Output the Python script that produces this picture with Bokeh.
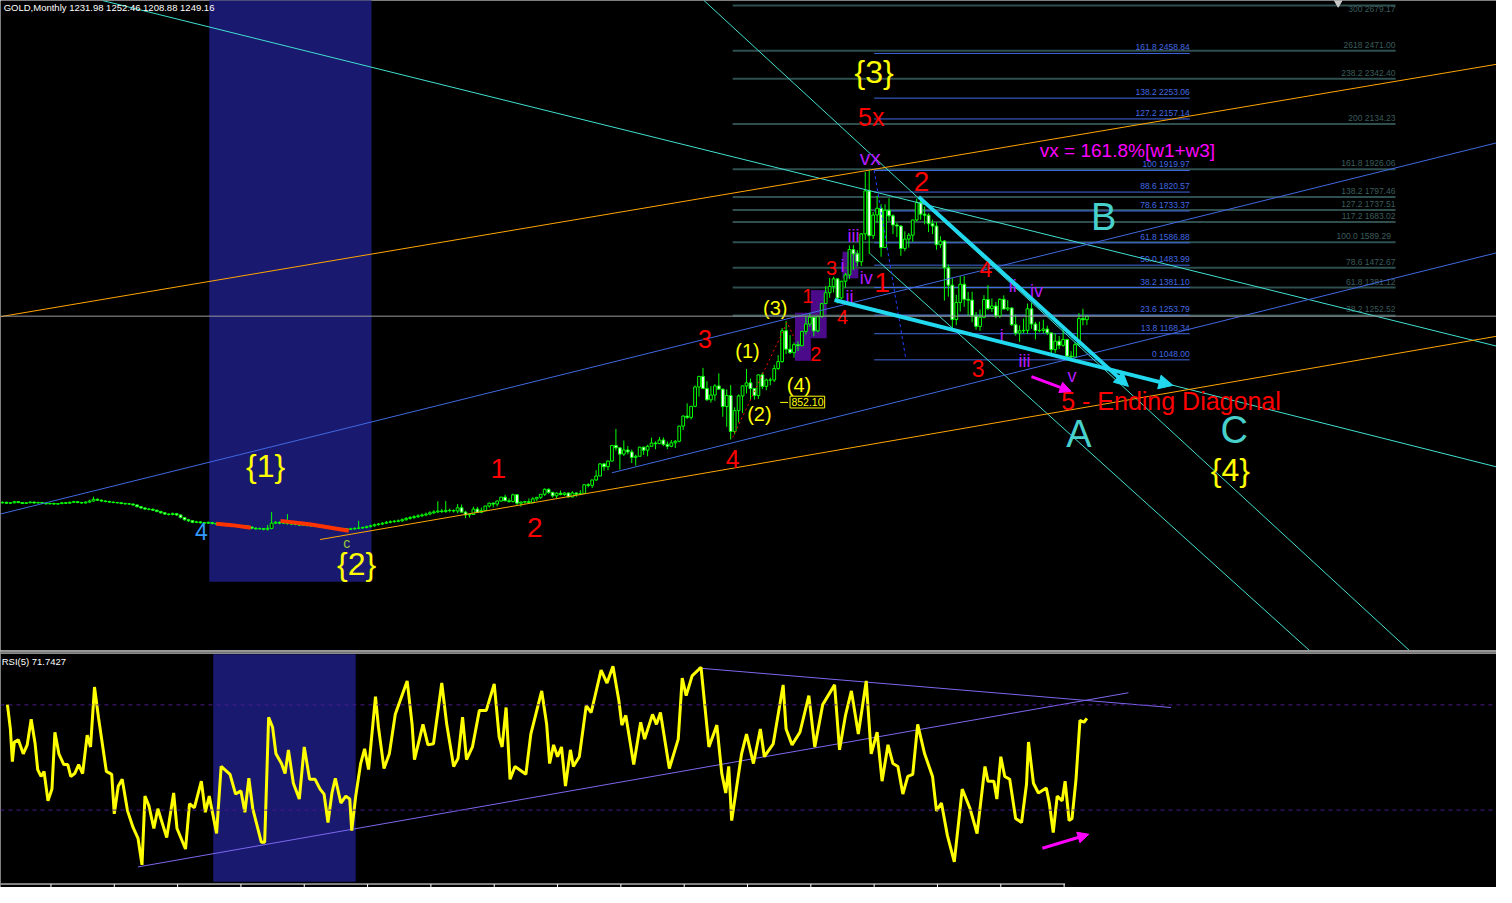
from bokeh.plotting import figure
from bokeh.layouts import column
from bokeh.models import Range1d, Span, Arrow, NormalHead, ColumnDataSource
from bokeh.core.properties import value
from bokeh.embed import file_html
from bokeh.resources import INLINE

FONT = "Liberation Sans"

# ---------------- GOLD monthly bars (oldest first) ----------------
first_open = 390.0
close_early = [392,388,390,395,391,387,390,393,389,391,
               388,385,387,384,386,390,388,392,395,391,
               389,393,398,406,402,398,396,393,391,390,
               387,385,384,380,372,366,361,360,356,350,
               344,338,336,340,334,322,312,307,300,302,
               298,296,299,295,292,290,293,287,285,282,
               280,283,278,273,270,271,268,272,296,300,
               296,298,294,292,290,287,288,285,283,282,
               280,278,276,275,273,271,270,268,270,272,
               274,276,280,284,289,292,296,300,303,305,
               307,312,318,322,326,330,334,338,344,348,
               352,350,355,354,352]
high_early = [396,395,393,399,398,394,393,397,396,395,
              394,391,390,390,389,394,393,396,399,398,
              394,397,404,418,410,405,401,399,396,394,
              393,390,389,387,382,375,369,366,364,358,
              353,347,342,345,343,336,325,316,310,307,
              306,302,304,302,298,296,297,296,291,289,
              286,288,286,281,277,276,274,288,347,306,
              304,303,338,298,296,294,293,291,289,287,
              286,284,282,280,279,277,275,274,275,277,
              307,281,285,289,294,297,301,306,309,311,
              313,318,324,329,333,337,341,345,351,356,
              397,362,398,363,360]
low_early = [386,385,384,387,388,384,385,388,386,387,
             385,382,383,381,381,384,385,386,390,388,
             386,387,391,396,398,395,392,390,388,386,
             383,381,380,376,368,362,357,355,352,346,
             340,334,331,332,330,318,308,302,296,296,
             294,292,292,290,288,286,286,283,281,278,
             276,276,274,269,265,266,263,262,268,292,
             291,292,289,287,286,283,283,281,279,278,
             276,274,272,271,269,266,264,262,264,266,
             268,270,272,276,280,285,288,292,295,298,
             300,302,307,312,316,320,324,328,332,338,
             342,343,344,346,345]

close_late = [367,347,334,336,361,346,354,375,388,384,398,416,
              399,396,427,388,393,395,391,408,415,429,452,438,
              422,434,428,435,417,435,429,433,473,470,495,513,
              569,556,582,654,643,614,633,624,599,604,646,632,
              650,665,662,679,659,650,666,673,743,789,783,834,
              923,972,916,864,886,928,913,833,884,718,814,882,
              928,942,916,884,979,926,955,955,1008,1040,1182,1097,
              1081,1118,1113,1179,1213,1244,1181,1247,1307,1357,1386,1421,
              1333,1410,1439,1556,1536,1500,1628,1826,1620,1715,1746,1565,
              1737,1711,1669,1664,1561,1604,1622,1692,1773,1719,1714,1675,
              1664,1578,1595,1472,1392,1234,1312,1396,1327,1323,1250,1202,
              1244,1326,1284,1296,1250,1327,1282,1287,1210,1171,1182,1184,
              1283,1213,1183,1183,1190,1172,1095,1134,1115,1142,1065,1061,
              1118,1238,1233,1249.16]
high_late = [384,382,353,340,372,371,368,376,390,392,400,417,
             427,410,432,430,397,399,410,416,417,430,456,456,
             440,438,446,438,437,443,438,448,476,480,497,540,
             573,574,585,656,730,646,677,651,635,611,648,648,
             657,690,673,693,691,672,679,679,745,793,848,836,
             930,974,1011,950,927,936,986,916,912,932,829,889,
             930,1006,962,918,980,990,962,966,1025,1070,1195,1226,
             1162,1128,1134,1180,1249,1265,1246,1250,1308,1387,1425,1431,
             1424,1412,1448,1575,1577,1553,1632,1913,1920,1729,1803,1765,
             1764,1792,1718,1679,1668,1640,1632,1693,1790,1795,1754,1723,
             1694,1682,1617,1600,1487,1424,1347,1433,1434,1361,1362,1268,
             1280,1346,1392,1331,1315,1331,1345,1323,1288,1256,1207,1238,
             1307,1309,1223,1224,1233,1205,1174,1170,1158,1192,1145,1088,
             1130,1263,1283,1252.46]
low_late = [342,345,319,321,334,343,342,353,368,369,373,396,
            399,390,391,380,372,386,386,386,398,407,421,431,
            414,411,424,422,414,414,418,425,431,461,458,490,
            514,537,540,580,630,543,605,613,573,561,604,610,
            604,651,636,661,651,637,646,642,668,725,776,774,
            830,879,914,860,851,860,911,786,740,681,705,760,
            803,893,865,865,868,913,908,931,946,1002,1035,1075,
            1075,1058,1089,1111,1165,1201,1157,1175,1242,1307,1334,1358,
            1308,1327,1381,1420,1462,1478,1480,1600,1535,1604,1680,1523,
            1563,1688,1627,1613,1527,1548,1565,1592,1685,1693,1672,1636,
            1627,1555,1564,1321,1339,1180,1208,1271,1292,1251,1221,1187,
            1182,1239,1277,1268,1240,1240,1280,1273,1204,1160,1131,1170,
            1167,1191,1142,1175,1170,1162,1077,1080,1098,1109,1053,1046,
            1060,1111,1207,1208.88]

# ---------------- RSI(5) path ----------------
rsi_bar = [1.25,2,2.5,3,4,5.25,6.25,7.25,8.25,8.9,
           9.75,10.5,11.5,12.5,13.25,14.25,15.5,16.5,17.25,18.25,
           19.25,20.25,21.4,22.25,23.25,24.25,26.25,27.6,28.25,29.25,
           30.25,31.6,33,34.25,35.25,36,37,38.25,39.25,41.5,
           43.25,44.1,46.25,47.25,48.5,50.25,51.25,52.25,54.1,55.25,
           57.5,58.9,60.25,61.25,62.25,63.25,65.4,66.25,67.25,68.25,
           69.1,70.5,71.4,72.25,73.5,75,76.25,77.6,79,80.25,
           81.25,82.25,83.25,84.1,85.5,86.75,87.75,88.25,89.25,90.5,
           91.5,92.5,94.25,95,96.4,97.75,99.25,102.25,103.5,104.1,
           106.25,107.5,108.9,111,112.25,114,115.1,116.25,117.25,118.75,
           120.5,122.25,124.25,125.5,126.25,127.25,128.25,129.5,132.25,133.5,
           136.25,137.5,138.25,139.25,140.25,141.25,142.25,143.5,144.25,145.75,
           147.5,148.75,151.25,152.75,154.25,155.75,156.5,157.5,159.5,161.25,
           162.25,164.25,165.25,166.25,168.5,170.75,171.75,172.75,174.25,176.5,
           178.5,180.5,181.75,182.75,183.5,184.25,186.75,188,189.75,191.5,
           192.5,194.75,197.25,198,199.5,201.5,203.75,205.25,207.25,210.25,
           211.5,213,214.5,216.25,218.25,219.5,221,222.25,223.75,225,
           226.25,227.5,228.75,230,231.25,233,235,236,237.25,238.75,
           240.5,242.5,244.5,246.25,248.25,249,250.5,251.25,252.25,253.25,
           254.5,256,257.5,258.75,259.25,260.5,261.75,263.75,264.5,265.5,
           266.5,267.75,268.5,269.5,270.25,271.25,272.25,273.25,274]
rsi_val = [70.1,60.8,48.4,55.9,56.7,51.4,54.8,64.5,55.2,45.4,
           42.8,44.7,33.5,38.0,59.6,51.4,47.3,47.3,42.8,43.9,
           47.3,43.9,58.5,54.0,76.8,65.3,44.7,43.6,28.6,39.1,
           41.7,29.7,23.4,19.3,9.2,35.3,31.6,23.0,30.5,19.6,
           36.5,23.0,15.2,32.4,30.9,41.0,29.2,35.3,21.1,46.6,
           43.6,36.1,37.3,29.2,42.1,30.5,17.8,17.8,65.3,61.5,
           51.4,47.7,43.9,52.9,40.2,34.2,54.0,41.7,41.7,38.0,
           36.1,25.3,36.5,42.1,32.7,35.3,34.2,22.2,35.3,47.7,
           53.3,45.4,73.1,61.5,45.8,51.4,66.4,79.1,62.6,49.2,
           62.6,54.8,55.2,78.3,62.6,46.6,49.6,65.3,49.2,54.0,
           67.9,67.9,78.0,57.8,54.0,69.0,41.7,46.6,43.6,58.9,
           75.3,62.6,47.7,54.8,50.3,54.0,39.1,52.9,46.6,50.3,
           69.7,67.1,83.2,78.3,84.7,71.6,62.3,66.0,47.3,63.4,
           57.0,66.4,62.6,67.1,45.8,57.0,80.2,73.5,81.0,84.3,
           54.0,62.3,43.9,36.5,46.6,26.0,51.4,58.9,47.7,60.8,
           50.3,55.2,77.6,60.8,54.8,59.6,73.5,54.0,70.1,77.6,
           52.9,66.0,75.3,58.9,79.1,51.4,59.6,41.0,54.8,47.7,
           46.6,36.1,42.8,43.6,62.6,51.4,42.8,29.7,32.7,20.4,
           10.3,38.0,30.5,21.1,46.6,41.0,41.0,34.2,50.3,42.8,
           41.7,26.8,25.3,39.9,55.9,40.2,36.5,38.4,32.7,21.5,
           35.3,33.5,41.0,26.0,26.8,41.7,64.1,63.4,64.9]
rsi_levels = [70, 30]

# ---------------- Fibonacci objects ----------------
fibA_ratio = ["300", "2618", "238.2", "200", "161.8", "138.2", "127.2", "117.2", "100.0  ", "78.6", "61.8", "38.2"]
fibA_price = [2679.17, 2471.00, 2342.40, 2134.23, 1926.06, 1797.46, 1737.51, 1683.02, 1589.29, 1472.67, 1381.12, 1252.52]
fibA_label_shift = [9, 0, 0, 0, 0, 0, 0, 0, 0, 0, 0, 0]
fibA_span = [184.5, 352.0]
fibB_ratio = ["161.8", "138.2", "127.2", "100", "88.6", "78.6", "61.8", "50.0", "38.2", "23.6", "13.8", "0"]
fibB_price = [2458.84, 2253.06, 2157.14, 1919.97, 1820.57, 1733.37, 1586.88, 1483.99, 1381.10, 1253.79, 1168.34, 1048.00]
fibB_span = [220.25, 300.0]
last_price = 1249.16

# ---------------- trend lines (bar, price) ----------------
turq_lines = [((25.25, 2702.6), (377.5, 1111.3)),
              ((210.25, 1323.8), (377.5, 555.2)),
              ((177.25, 2702.6), (355.5, -290.2)),
              ((219.25, 1536.2), (330.25, -290.2))]
orange_lines = [((-0.5, 1246.9), (377.5, 2408.8)),
                ((80.25, 220.7), (377.5, 1156.5))]
blue_lines = [((-0.5, 338.2), (377.5, 2047.1)),
              ((154.0, 528.1), (377.5, 1540.8))]
diag_arrows = [((231.5, 1798.5), (284.5, 925.9)),
               ((210.25, 1323.8), (295.75, 930.5))]
magenta_arrow = ((260.0, 971.1), (270.0, 903.3))
fib_dash = ((220.25, 1920.5), (228.25, 1052.5))
red_dotted_x = [184.5, 198.25, 200.25]
red_dotted_y = [690.9, 1219.8, 1142.9]
red_band1_x = [54.0, 58.0, 62.75]
red_band1_y = [293.0, 287.0, 274.9]
red_band2_x = [70.25, 78.0, 87.5]
red_band2_y = [306.6, 290.0, 261.4]
box_left = [200.25, 204.25, 212.25]
box_right = [204.25, 208.25, 216.25]
box_bottom = [1043.5, 1147.5, 1423.2]
box_top = [1265.0, 1369.0, 1545.3]
band_main = (52.25, 93.25, 26.3)
band_rsi = (53.25, 89.25)
rsi_lines = [((34.25, 8.4), (284.5, 74.6)),
             ((175.75, 84.0), (295.25, 69.0))]
rsi_arrow = ((262.75, 15.5), (274.5, 20.8))
time_ticks = [12.25 + 16 * k for k in range(17)]

YEL, RED, TURQ, VIO, MAG = "#ffff00", "#ff0000", "#48d1cc", "#b21cff", "#ff00ff"
wave_text = ["{3}", "{1}", "{2}", "{4}", "(3)", "(1)", "(2)", "(4)",
             "5x", "1", "2", "3", "4", "1", "2", "3", "4", "1", "2", "4", "3",
             "5 - Ending Diagonal", "B", "A", "C",
             "vx", "iii", "i", "iv", "ii", "ii", "iv", "i", "iii", "v",
             "vx = 161.8%[w1+w3]", "c", "4"]
wave_bar = [220.25, 66.5, 89.5, 310.25, 195.25, 188.25, 191.25, 201.25,
            219.5, 125.25, 134.5, 177.5, 184.5, 203.5, 205.5, 209.5, 212.25, 222.25, 232.25, 248.5, 246.5,
            295.25, 278.25, 272.0, 311.25,
            219.25, 215.0, 212.25, 218.25, 214.0, 255.25, 261.25, 252.5, 258.25, 270.25,
            284.25, 87.0, 50.25]
wave_price = [2372.6, 559.8, 107.7, 541.7, 1287.6, 1088.7, 799.4, 930.5,
              2164.6, 546.2, 275.1, 1142.9, 591.4, 1341.9, 1075.1, 1473.0, 1246.9, 1405.1, 1870.8, 1468.4, 1007.3,
              858.1, 1708.0, 704.4, 727.0,
              1979.3, 1617.6, 1482.0, 1423.2, 1337.3, 1387.0, 1364.5, 1156.5, 1043.5, 975.7,
              2010.9, 202.6, 256.9]
wave_color = [YEL] * 8 + [RED] * 13 + [RED, TURQ, TURQ, TURQ] + [VIO] * 10 + [MAG, "#9acd32", "#3399ff"]
wave_size = ["32px"] * 4 + ["20px"] * 4 + \
            ["25px", "28px", "28px", "25px", "25px", "20px", "20px", "20px", "20px", "28px", "28px", "23px", "23px"] + \
            ["25px", "38px", "38px", "38px"] + ["21px"] + ["18px"] * 9 + ["19px", "14px", "23px"]

# ---------------- build ----------------
close = close_early + close_late
high = high_early + high_late
low = low_early + low_late
n = len(close)
bars = list(range(n))
opn = [first_open] + close[:-1]
top = [max(o, c) for o, c in zip(opn, close)]
bot = [min(o, c) for o, c in zip(opn, close)]
fill = ["black" if c >= o else "white" for o, c in zip(opn, close)]

W = 1496
XR = (-0.5, 377.5)


def base_fig(h, yr):
    f = figure(width=W, height=h, x_range=Range1d(*XR), y_range=Range1d(*yr),
               output_backend="svg", toolbar_location=None,
               x_axis_location=None, y_axis_location=None, min_border=0,
               background_fill_color="black", border_fill_color="black",
               outline_line_color=None)
    f.grid.visible = False
    return f


p = base_fig(650, (-290.2, 2702.6))

# background band and purple boxes
p.quad(left=[band_main[0]], right=[band_main[1]], bottom=[band_main[2]], top=[2800],
       fill_color="#191970", line_color=None)
p.quad(left=box_left, right=box_right, bottom=box_bottom, top=box_top,
       fill_color="#4b0a8a", line_color=None)

# fib levels
nA = len(fibA_price)
p.segment(x0=[fibA_span[0]] * nA, y0=fibA_price, x1=[fibA_span[1]] * nA, y1=fibA_price,
          line_color="#2f4f4f", line_width=2)
srcA = ColumnDataSource(dict(x=[fibA_span[1]] * nA, y=fibA_price,
                             t=[f"{r} {v:.2f}" for r, v in zip(fibA_ratio, fibA_price)],
                             dy=[s - 1 for s in fibA_label_shift]))
p.text(x="x", y="y", text="t", y_offset="dy", source=srcA,
       text_align="right", text_baseline="bottom",
       text_color="#3b5c5c", text_font=value(FONT), text_font_size="8.5px")
nB = len(fibB_price)
p.segment(x0=[fibB_span[0]] * nB, y0=fibB_price, x1=[fibB_span[1]] * nB, y1=fibB_price,
          line_color="#4169e1", line_width=1)
p.text(x=[fibB_span[1]] * nB, y=fibB_price,
       text=[f"{r} {v:.2f}" for r, v in zip(fibB_ratio, fibB_price)],
       text_align="right", text_baseline="bottom", y_offset=-1,
       text_color="#4169e1", text_font=value(FONT), text_font_size="8.5px")
p.add_layout(Span(location=last_price, dimension="width", line_color="#9a9a9a", line_width=1))
p.scatter(x=[337.5], y=[2693], marker="inverted_triangle", size=8, color="#c8c8c8")

# candles
p.segment(x0=bars, y0=high, x1=bars, y1=low, line_color="#00ff00", line_width=1)
p.vbar(x=bars, width=0.7, top=top, bottom=bot, fill_color=fill, line_color="#00ff00", line_width=1)


def seglist(lines):
    return dict(x0=[a[0] for a, b in lines], y0=[a[1] for a, b in lines],
                x1=[b[0] for a, b in lines], y1=[b[1] for a, b in lines])


p.segment(**seglist(turq_lines), line_color="#40e0d0", line_width=1)
p.segment(**seglist(orange_lines), line_color="#ffa500", line_width=1)
p.segment(**seglist(blue_lines), line_color="#4169e1", line_width=1)
p.segment(x0=[fib_dash[0][0]], y0=[fib_dash[0][1]], x1=[fib_dash[1][0]], y1=[fib_dash[1][1]],
          line_color="#2040ff", line_width=1, line_dash="3 3")
p.line(red_dotted_x, red_dotted_y, line_color="#ff0000", line_width=1, line_dash="2 3")
p.line(red_band1_x, red_band1_y, line_color="#ff3300", line_width=4)
p.line(red_band2_x, red_band2_y, line_color="#ff3300", line_width=4)

for (a, b) in diag_arrows:
    p.add_layout(Arrow(end=NormalHead(size=14, fill_color="#22d8ee", line_color="#22d8ee"),
                       x_start=a[0], y_start=a[1], x_end=b[0], y_end=b[1],
                       line_color="#22d8ee", line_width=4))
p.add_layout(Arrow(end=NormalHead(size=11, fill_color=MAG, line_color=MAG),
                   x_start=magenta_arrow[0][0], y_start=magenta_arrow[0][1],
                   x_end=magenta_arrow[1][0], y_end=magenta_arrow[1][1],
                   line_color=MAG, line_width=3))

# 852.10 tag
p.quad(left=[199.0], right=[207.75], bottom=[826.5], top=[880.7],
       fill_color="black", line_color=YEL, line_width=1)
p.segment(x0=[196.5], y0=[852.1], x1=[198.5], y1=[852.1], line_color=YEL, line_width=1)
p.text(x=[203.4], y=[852.1], text=["852.10"], text_align="center", text_baseline="middle",
       text_color=YEL, text_font=value(FONT), text_font_size="10.5px")

# wave labels
src = ColumnDataSource(dict(x=wave_bar, y=wave_price, t=wave_text, c=wave_color, s=wave_size))
p.text(x="x", y="y", text="t", text_color="c", text_font_size="s", source=src,
       text_align="center", text_baseline="middle", text_font=value(FONT))

p.text(x=[0.3], y=[2672], text=["GOLD,Monthly  1231.98 1252.46 1208.88 1249.16"],
       text_align="left", text_baseline="middle", text_color="white",
       text_font=value(FONT), text_font_size="9.5px")

# ---------------- RSI pane ----------------
r = base_fig(237, (0.58, 90.67))
r.quad(left=[band_rsi[0]], right=[band_rsi[1]], bottom=[2.8], top=[89.2],
       fill_color="#191970", line_color=None)
for lv in rsi_levels:
    r.add_layout(Span(location=lv, dimension="width", line_color="#4b1a8c", line_width=1, line_dash="4 4"))
r.segment(**seglist(rsi_lines), line_color="#7b68ee", line_width=1)
r.line(rsi_bar, rsi_val, line_color="#ffff00", line_width=3)
r.add_layout(Arrow(end=NormalHead(size=11, fill_color=MAG, line_color=MAG),
                   x_start=rsi_arrow[0][0], y_start=rsi_arrow[0][1],
                   x_end=rsi_arrow[1][0], y_end=rsi_arrow[1][1],
                   line_color=MAG, line_width=3))
r.add_layout(Span(location=90.45, dimension="width", line_color="white", line_width=1))
r.add_layout(Span(location=89.7, dimension="width", line_color="white", line_width=1))
r.segment(x0=[-0.5], y0=[1.9], x1=[268.5], y1=[1.9], line_color="white", line_width=1)
r.segment(x0=time_ticks, y0=[1.9] * len(time_ticks), x1=time_ticks, y1=[0.58] * len(time_ticks),
          line_color="white", line_width=1)
r.text(x=[-0.2], y=[86.4], text=["RSI(5) 71.7427"], text_align="left", text_baseline="middle",
       text_color="white", text_font=value(FONT), text_font_size="9.5px")

layout = column(p, r, spacing=0)
open("out.html", "w").write(file_html(layout, INLINE))
